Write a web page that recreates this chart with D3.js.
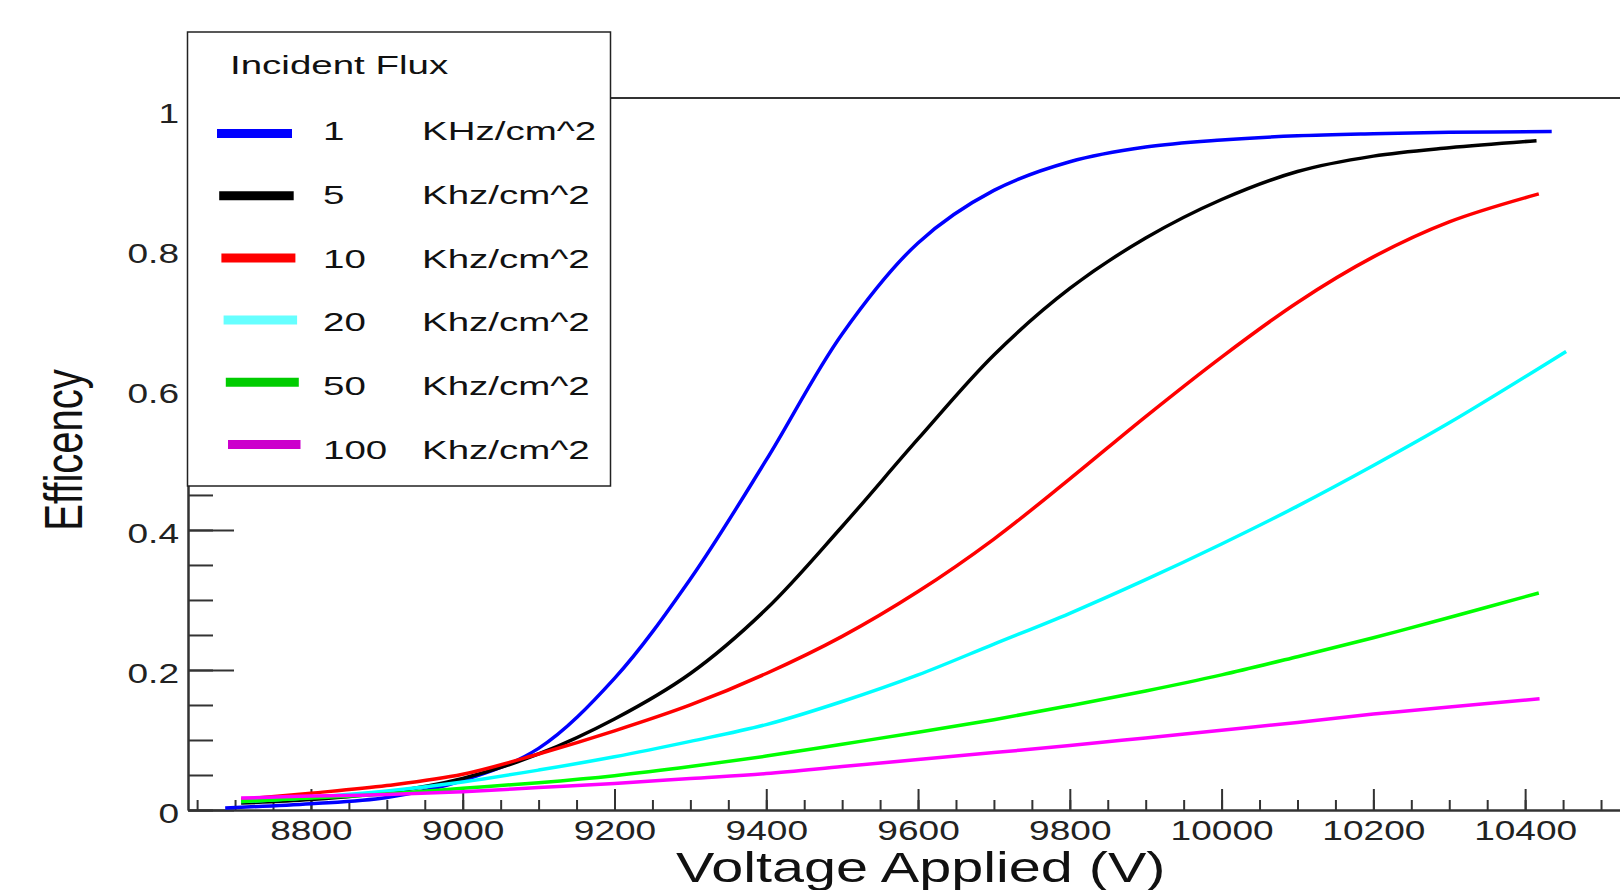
<!DOCTYPE html>
<html>
<head>
<meta charset="utf-8">
<script src="https://cdn.jsdelivr.net/npm/d3@7"></script>
<style>
  body { margin: 0; background: #fff; }
  svg { display: block; font-family: "Liberation Sans", Arial, sans-serif; }
</style>
</head>
<body>
<svg width="1620" height="890"></svg>
<script>
// data
var fluxLabels = ["1", "5", "10", "20", "50", "100"];
var unitLabels = ["KHz/cm^2", "Khz/cm^2", "Khz/cm^2", "Khz/cm^2", "Khz/cm^2", "Khz/cm^2"];
var startVolts = [8687, 8708, 8708, 8708, 8708, 8708];
var endVolts = [10435, 10415, 10418, 10454, 10418, 10419];
var gridVolts = [8800, 8900, 9000, 9100, 9200, 9300, 9400, 9500, 9600, 9700, 9800, 9900, 10000, 10100, 10200, 10300];
// values: start, grid..., end
var eff1 = [0.003, 0.009, 0.018, 0.042, 0.088, 0.188, 0.33, 0.5, 0.68, 0.81, 0.885, 0.926, 0.947, 0.957, 0.963, 0.966, 0.968, 0.969];
var eff5 = [0.010, 0.015, 0.025, 0.045, 0.08, 0.13, 0.195, 0.287, 0.405, 0.53, 0.65, 0.745, 0.817, 0.872, 0.912, 0.934, 0.946, 0.956];
var eff10 = [0.015, 0.024, 0.035, 0.051, 0.08, 0.113, 0.15, 0.195, 0.248, 0.312, 0.387, 0.473, 0.562, 0.647, 0.725, 0.79, 0.84, 0.88];
var eff20 = [0.012, 0.018, 0.027, 0.04, 0.057, 0.076, 0.098, 0.122, 0.155, 0.193, 0.237, 0.281, 0.329, 0.38, 0.434, 0.492, 0.553, 0.655];
var eff50 = [0.012, 0.017, 0.023, 0.031, 0.039, 0.049, 0.062, 0.077, 0.094, 0.111, 0.129, 0.149, 0.17, 0.193, 0.219, 0.246, 0.275, 0.31];
var eff100 = [0.017, 0.02, 0.022, 0.026, 0.032, 0.038, 0.045, 0.052, 0.062, 0.072, 0.082, 0.092, 0.103, 0.114, 0.125, 0.137, 0.147, 0.159];
var allEff = [eff1, eff5, eff10, eff20, eff50, eff100];

var majorX = [8800, 9000, 9200, 9400, 9600, 9800, 10000, 10200, 10400];
var majorY = [0, 0.2, 0.4, 0.6, 0.8, 1];

var lineColors = ["#0000ff", "#000000", "#ff0000", "#00ffff", "#00ff00", "#ff00ff"];
var legendColors = ["#0000ff", "#000000", "#ff0000", "#66ffff", "#00cc00", "#cc00cc"];

var svg = d3.select("svg");

var x = d3.scaleLinear().domain([8638, 10525]).range([188, 1620]);
var y = d3.scaleLinear().domain([0, 1.017]).range([810, 98]);

// stretch text horizontally, the original picture is wide
function stretch(sel, k) {
    sel.each(function() {
        var w = this.getComputedTextLength();
        d3.select(this).attr("textLength", w * k).attr("lengthAdjust", "spacingAndGlyphs");
    });
}

// top frame line
svg.append("line")
    .attr("x1", 188).attr("x2", 1620)
    .attr("y1", y.range()[1]).attr("y2", y.range()[1])
    .attr("stroke", "#333").attr("stroke-width", 2);

// x axis, minor then major
var minorX = d3.range(8650, 10551, 50);
svg.append("g")
    .attr("transform", "translate(0,810)")
    .call(d3.axisBottom(x).tickValues(minorX).tickSize(-10).tickSizeOuter(0).tickFormat(""))
    .call(function(g) { g.selectAll("line, path").attr("stroke", "#333").attr("stroke-width", 2); });

var xAxis = svg.append("g")
    .attr("transform", "translate(0,810)")
    .call(d3.axisBottom(x).tickValues(majorX).tickSize(-21).tickSizeOuter(0).tickPadding(10).tickFormat(d3.format("d")));
xAxis.selectAll("line, path").attr("stroke", "#333").attr("stroke-width", 2);
xAxis.selectAll("text").attr("font-size", 28.5).attr("fill", "#222").attr("font-family", null);
stretch(xAxis.selectAll("text"), 1.3);

// y axis
var minorY = d3.range(0, 1.001, 0.05);
svg.append("g")
    .attr("transform", "translate(188,0)")
    .call(d3.axisLeft(y).tickValues(minorY).tickSize(-25).tickSizeOuter(0).tickFormat(""))
    .call(function(g) { g.selectAll("line, path").attr("stroke", "#333").attr("stroke-width", 2); });

var yAxis = svg.append("g")
    .attr("transform", "translate(188,0)")
    .call(d3.axisLeft(y).tickValues(majorY).tickSize(-46).tickSizeOuter(0).tickPadding(9).tickFormat(d3.format("")));
yAxis.selectAll("line, path").attr("stroke", "#333").attr("stroke-width", 2);
yAxis.selectAll("text").attr("font-size", 28.5).attr("fill", "#222").attr("dy", "0.44em").attr("font-family", null);
stretch(yAxis.selectAll("text"), 1.3);

// axis titles
var xt = svg.append("text")
    .attr("x", 676).attr("y", 882)
    .attr("font-size", 42).attr("fill", "#111")
    .text("Voltage Applied (V)");
stretch(xt, 1.37);

svg.append("g")
    .attr("transform", "translate(82,450) scale(1.35,1) rotate(-90)")
    .append("text")
    .attr("text-anchor", "middle")
    .attr("font-size", 40).attr("fill", "#111")
    .text("Efficency");

// curves
var line = d3.line()
    .x(function(d) { return x(d[0]); })
    .y(function(d) { return y(d[1]); })
    .curve(d3.curveCatmullRom.alpha(0.5));

allEff.forEach(function(vals, i) {
    var volts = [startVolts[i]].concat(gridVolts, [endVolts[i]]);
    var pts = volts.map(function(v, j) { return [v, vals[j]]; });
    svg.append("path")
        .datum(pts)
        .attr("d", line)
        .attr("fill", "none")
        .attr("stroke", lineColors[i])
        .attr("stroke-width", 3.5)
        .attr("stroke-linejoin", "round");
});

// legend
var legend = svg.append("g");
legend.append("rect")
    .attr("x", 187.5).attr("y", 32)
    .attr("width", 423).attr("height", 454)
    .attr("fill", "#fff").attr("stroke", "#222").attr("stroke-width", 1.5);

var lt = legend.append("text")
    .attr("x", 230).attr("y", 74)
    .attr("font-size", 26).attr("fill", "#111")
    .text("Incident Flux");
stretch(lt, 1.48);

fluxLabels.forEach(function(lab, i) {
    var ly = 133.5 + i * 62.2;
    var ty = 140 + i * 63.8;
    legend.append("line")
        .attr("x1", 217 + i * 2.2).attr("x2", 292 + i * 1.7)
        .attr("y1", ly).attr("y2", ly)
        .attr("stroke", legendColors[i]).attr("stroke-width", 9);
    var t1 = legend.append("text")
        .attr("x", 323).attr("y", ty)
        .attr("font-size", 26).attr("fill", "#111")
        .text(lab);
    stretch(t1, 1.48);
    var t2 = legend.append("text")
        .attr("x", 422).attr("y", ty)
        .attr("font-size", 26).attr("fill", "#111")
        .text(unitLabels[i]);
    stretch(t2, 1.48);
});
</script>
</body>
</html>
